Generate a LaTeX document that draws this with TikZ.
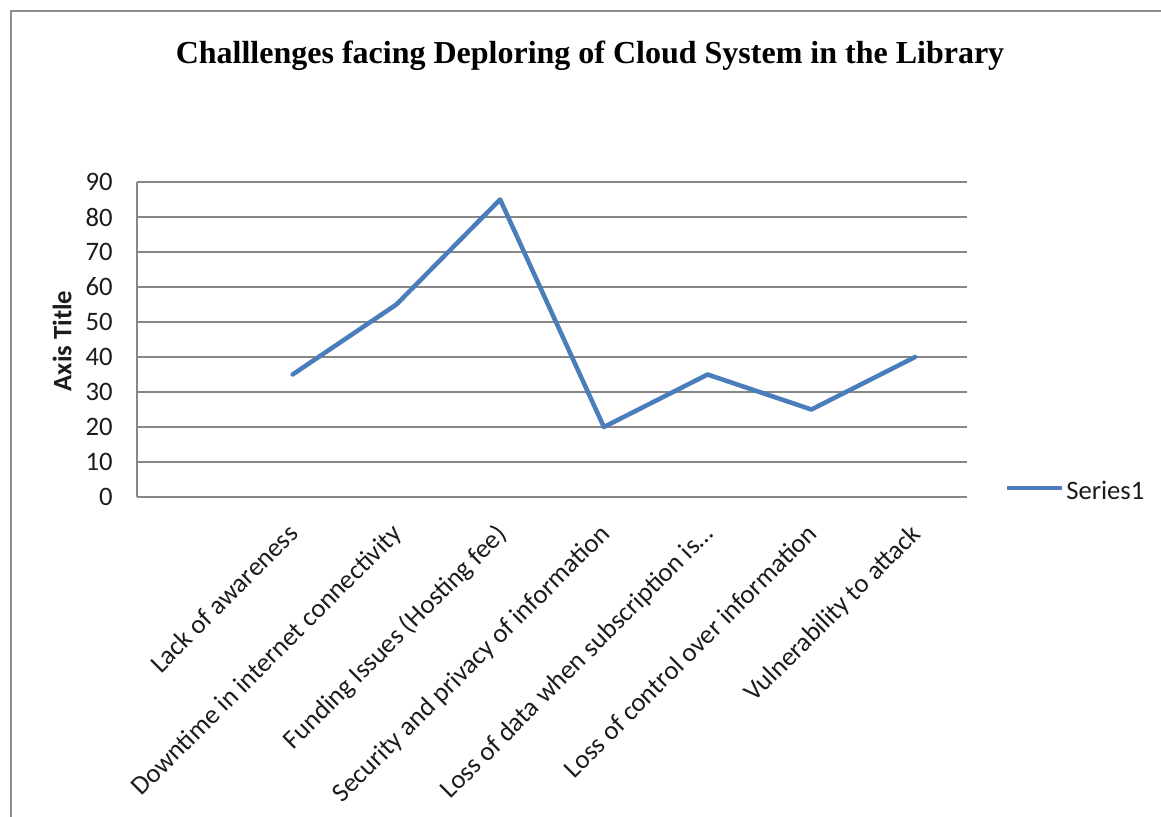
\documentclass[tikz,border=0pt]{standalone}
\usepackage{fontspec}
\setmainfont{Liberation Serif}
\setsansfont{Carlito}
\usetikzlibrary{positioning}
\definecolor{cframe}{HTML}{8C8C8C}
\definecolor{cgrid}{HTML}{878787}
\definecolor{cseries}{HTML}{4A7EBB}
\definecolor{ctext}{HTML}{1C1C1C}
\tikzset{
  every picture/.style={x=0.75pt, y=-0.75pt},
  frame/.style={draw=cframe, line width=1.9pt},
  gridline/.style={draw=cgrid, line width=1.1pt},
  series/.style={draw=cseries, line width=3.4pt, line join=round, line cap=round},
  title/.style={font=\rmfamily\bfseries\fontsize{24}{28}\selectfont, text=black},
  ticklab/.style={font=\sffamily\fontsize{20}{24}\selectfont, text=ctext, anchor=east, inner sep=0pt},
  catlab/.style={font=\sffamily\fontsize{20}{24}\selectfont, text=ctext, rotate=45, anchor=north east, inner sep=0pt},
}

\begin{document}
\begin{tikzpicture}[
  axistitle/.style={font=\sffamily\bfseries\fontsize{20}{24}\selectfont, text=ctext, rotate=90},
  legtext/.style={font=\sffamily\fontsize{20}{24}\selectfont, text=ctext, anchor=west, inner sep=0pt}]
  \useasboundingbox (0,0) rectangle (1161,817);
  % outer frame (only top and left edges show)
  \draw[frame] (1161,11) -- (11,11) -- (11,817);
  \node[title] (title) at (590,56) {Challlenges facing Deploring of Cloud System in the Library};
  % value axis and grid
  \foreach \v in {0,10,...,90} {
    \draw[gridline] (137,{497-3.5*\v}) -- (967,{497-3.5*\v});
    \node[ticklab] (y\v) at (113,{497-3.5*\v}) {\v};
  }
  \draw[gridline] (137,182) -- (137,497);
  \node[axistitle] (ytitle) at (62,341) {Axis Title};
  % categories (the first one is blank)
  \foreach \i/\t in {2/Lack of awareness, 3/Downtime in internet connectivity,
      4/Funding Issues (Hosting fee), 5/Security and privacy of information,
      6/Loss of data when subscription is…, 7/Loss of control over information,
      8/Vulnerability to attack}
    \node[catlab] (c\i) at ({137+(\i-0.5)*103.75-6},522) {\t};
  % data
  \foreach \i/\v in {2/35, 3/55, 4/85, 5/20, 6/35, 7/25, 8/40}
    \coordinate (p\i) at ({137+(\i-0.5)*103.75},{497-3.5*\v});
  \draw[series] (p2) -- (p3) -- (p4) -- (p5) -- (p6) -- (p7) -- (p8);
  % legend
  \coordinate (legA) at (1007,488);
  \coordinate (legB) at (1062,488);
  \draw[series, line cap=butt] (legA) -- (legB);
  \node[legtext] (leg) at (1066,490) {Series1};
\end{tikzpicture}
\end{document}
